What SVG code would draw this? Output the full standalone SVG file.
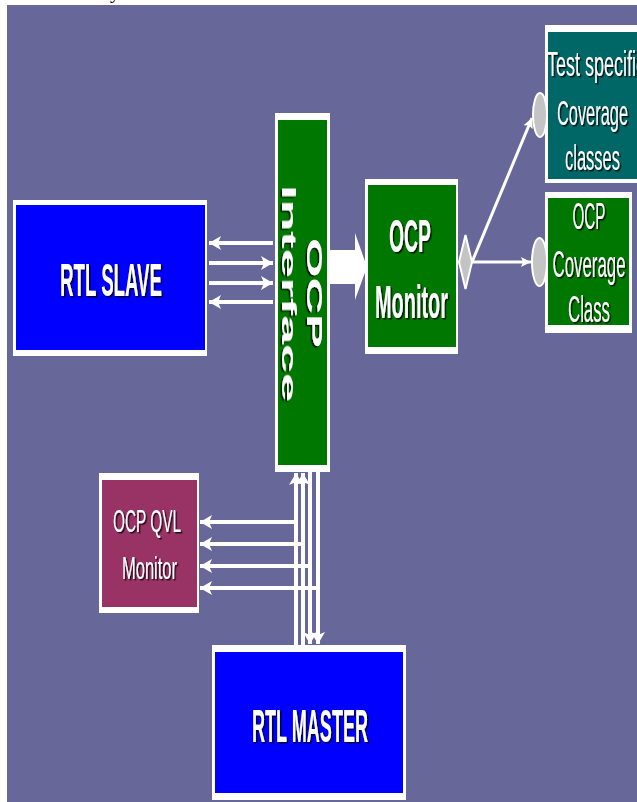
<svg xmlns="http://www.w3.org/2000/svg" width="637" height="802" viewBox="0 0 637 802">
<defs>
<style>
.frame{fill:#ffffff}
.t{fill:#ffffff;font-family:"Liberation Sans",Arial,sans-serif;text-anchor:middle;filter:url(#sh)}
.b{font-weight:bold}
.wire{stroke:#ffffff;stroke-width:4;fill:none}
.thin{stroke:#ffffff;stroke-width:3;fill:none}
.knob{fill:#c4c4c4;stroke:#ffffff;stroke-width:2}
</style>
<filter id="sh" x="-20%" y="-20%" width="140%" height="140%">
<feDropShadow dx="1.5" dy="1.5" stdDeviation="0.3" flood-color="#000000" flood-opacity="0.8"/>
</filter>
<marker id="ah" markerUnits="userSpaceOnUse" markerWidth="14" markerHeight="14" refX="12" refY="7" orient="auto">
<path d="M0,0 L12,7 L0,14 L3,7 Z" fill="#ffffff"/>
</marker>
<marker id="as" markerUnits="userSpaceOnUse" markerWidth="12" markerHeight="12" refX="10" refY="6" orient="auto">
<path d="M0,1 L10,6 L0,11 L2,6 Z" fill="#ffffff"/>
</marker>
</defs>
<rect x="0" y="0" width="637" height="802" fill="#ffffff"/>
<text x="110" y="-2" font-family="Liberation Serif,serif" font-size="20" fill="#000000">y</text>
<rect x="7" y="5" width="630" height="797" fill="#676799"/>

<g id="connectors">
<line class="wire" x1="273" y1="243" x2="209" y2="243" marker-end="url(#ah)"/>
<line class="wire" x1="209" y1="263" x2="273" y2="263" marker-end="url(#ah)"/>
<line class="wire" x1="209" y1="283" x2="273" y2="283" marker-end="url(#ah)"/>
<line class="wire" x1="273" y1="302" x2="209" y2="302" marker-end="url(#ah)"/>
<line class="wire" x1="296" y1="646" x2="296" y2="473" marker-end="url(#ah)"/>
<line class="wire" x1="303" y1="646" x2="303" y2="473" marker-end="url(#ah)"/>
<line class="wire" x1="310" y1="472" x2="310" y2="644" marker-end="url(#ah)"/>
<line class="wire" x1="318" y1="472" x2="318" y2="644" marker-end="url(#ah)"/>
<line class="wire" x1="296" y1="522" x2="200" y2="522" marker-end="url(#ah)"/>
<line class="wire" x1="303" y1="544" x2="200" y2="544" marker-end="url(#ah)"/>
<line class="wire" x1="310" y1="566" x2="200" y2="566" marker-end="url(#ah)"/>
<line class="wire" x1="318" y1="588" x2="200" y2="588" marker-end="url(#ah)"/>
<polygon points="330,250 355,250 355,233 367,267 355,300 355,284 330,284" fill="#ffffff"/>
<line class="thin" x1="472" y1="262" x2="531" y2="262" marker-end="url(#as)"/>
<line class="thin" x1="472" y1="262" x2="532" y2="118" marker-end="url(#as)"/>
</g>

<g id="rtl-slave">
<rect class="frame" x="13" y="200" width="194" height="156"/>
<rect x="16" y="205" width="189" height="145" fill="#0000ff"/>
<text class="t b" x="111" y="296" font-size="46" textLength="102" lengthAdjust="spacingAndGlyphs">RTL SLAVE</text>
</g>

<g id="ocp-interface">
<rect class="frame" x="275" y="113" width="55" height="359"/>
<rect x="278" y="120" width="49" height="345" fill="#007700"/>
<text class="t b" transform="translate(307,293) rotate(90)" font-size="22" textLength="110" lengthAdjust="spacingAndGlyphs">OCP</text>
<text class="t b" transform="translate(282,293.5) rotate(90)" font-size="21" textLength="217" lengthAdjust="spacingAndGlyphs">Interface</text>
</g>

<g id="ocp-monitor">
<rect class="frame" x="365" y="179" width="93" height="175"/>
<rect x="368" y="185" width="88" height="162" fill="#007700"/>
<text class="t b" x="410" y="252" font-size="46" textLength="42" lengthAdjust="spacingAndGlyphs">OCP</text>
<text class="t b" x="411.5" y="318" font-size="46" textLength="73" lengthAdjust="spacingAndGlyphs">Monitor</text>
</g>

<g id="diamond">
<polygon class="knob" points="459,262 465.5,235 472,262 465.5,289"/>
</g>

<g id="test-specific-coverage">
<rect class="frame" x="545" y="25" width="95" height="158"/>
<rect x="548" y="32" width="92" height="147" fill="#006666"/>
<text class="t" x="547" y="76" font-size="35" textLength="98" lengthAdjust="spacingAndGlyphs" style="text-anchor:start">Test specific</text>
<text class="t" x="592.5" y="125" font-size="35" textLength="71" lengthAdjust="spacingAndGlyphs">Coverage</text>
<text class="t" x="592.5" y="170" font-size="35" textLength="55" lengthAdjust="spacingAndGlyphs">classes</text>
</g>

<g id="ocp-coverage-class">
<rect class="frame" x="545" y="192" width="87" height="141"/>
<rect x="548" y="198" width="81" height="127" fill="#007700"/>
<text class="t" x="589" y="229" font-size="36" textLength="33" lengthAdjust="spacingAndGlyphs">OCP</text>
<text class="t" x="589" y="277" font-size="36" textLength="73" lengthAdjust="spacingAndGlyphs">Coverage</text>
<text class="t" x="589" y="322" font-size="36" textLength="42" lengthAdjust="spacingAndGlyphs">Class</text>
</g>

<g id="port-test">
<ellipse class="knob" cx="540" cy="115" rx="7" ry="22"/>
</g>
<g id="port-ocp">
<ellipse class="knob" cx="539.5" cy="262" rx="7.5" ry="24"/>
</g>

<g id="ocp-qvl-monitor">
<rect class="frame" x="99" y="473" width="100" height="140"/>
<rect x="102" y="480" width="95" height="127" fill="#993366"/>
<text class="t" x="147" y="532" font-size="31" textLength="68" lengthAdjust="spacingAndGlyphs">OCP QVL</text>
<text class="t" x="149.5" y="579" font-size="32" textLength="55" lengthAdjust="spacingAndGlyphs">Monitor</text>
</g>

<g id="rtl-master">
<rect class="frame" x="212" y="645" width="194" height="155"/>
<rect x="215" y="652" width="188" height="141" fill="#0000ff"/>
<text class="t b" x="310" y="742" font-size="47" textLength="116" lengthAdjust="spacingAndGlyphs">RTL MASTER</text>
</g>
</svg>
